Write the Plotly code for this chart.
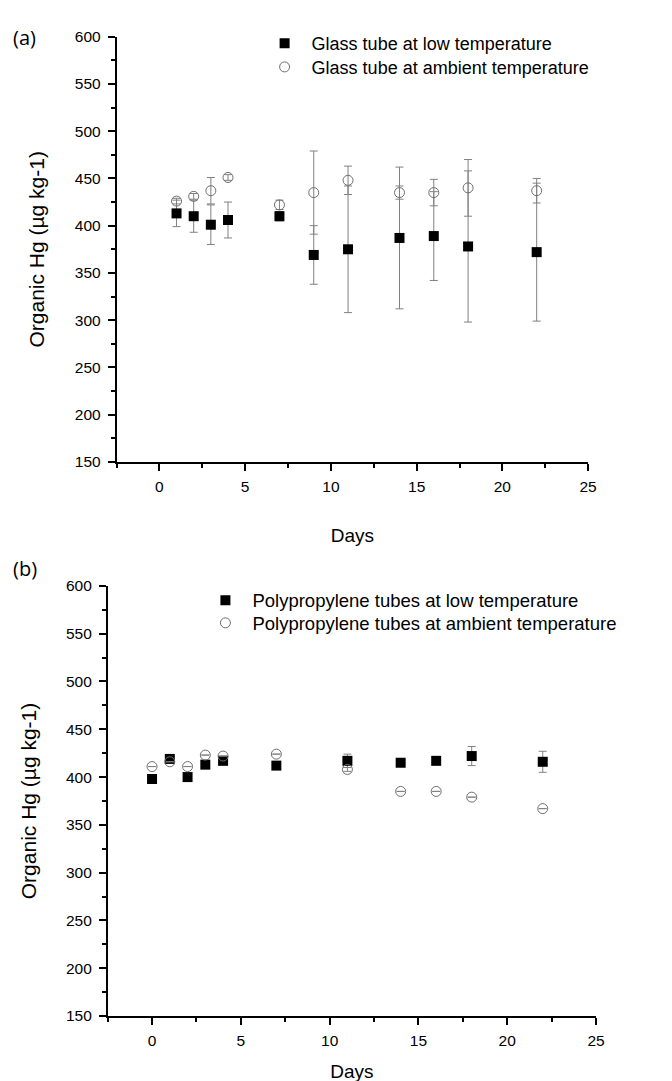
import plotly.graph_objects as go

W, H = 672, 1081

# ---- Panel (a): glass tubes ----
days_a = [1, 2, 3, 4, 7, 9, 11, 14, 16, 18, 22]
glass_low = [413, 410, 401, 406, 410, 369, 375, 387, 389, 378, 372]
glass_low_err = [14, 17, 21, 19, 5, 31, 67, 75, 47, 80, 73]
glass_amb = [426, 431, 437, 451, 422, 435, 448, 435, 435, 440, 437]
glass_amb_err = [3, 3, 14, 3, 5, 44, 15, 7, 14, 30, 13]

# ---- Panel (b): polypropylene tubes ----
days_b = [0, 1, 2, 3, 4, 7, 11, 14, 16, 18, 22]
pp_low = [398, 419, 400, 413, 417, 412, 417, 415, 417, 422, 416]
pp_low_err = [0, 2, 0, 0, 0, 0, 7, 0, 0, 10, 11]
pp_amb = [411, 416, 411, 423, 422, 424, 408, 385, 385, 379, 367]
pp_amb_err = [0, 0, 0, 0, 0, 0, 2, 0, 0, 0, 0]

y_ticks = [150, 200, 250, 300, 350, 400, 450, 500, 550, 600]
x_ticks = [0, 5, 10, 15, 20, 25]

FONT = "Liberation Sans, Arial, sans-serif"
ERR_COL = "#808080"

fig = go.Figure()

def add_series(x, y, err, name, filled, xa, ya, legend):
    if filled:
        marker = dict(symbol="square", size=10, color="black",
                      line=dict(color="black", width=0))
    else:
        marker = dict(symbol="circle-open", size=10, color="#6e6e6e",
                      line=dict(color="#6e6e6e", width=1))
    fig.add_trace(go.Scatter(
        x=x, y=y, mode="markers", name=name, marker=marker,
        error_y=dict(type="data", array=err, visible=True,
                     color=ERR_COL, thickness=1, width=4),
        xaxis=xa, yaxis=ya, legend=legend, cliponaxis=False))

add_series(days_a, glass_low, glass_low_err, "Glass tube at low temperature", True, "x", "y", "legend")
add_series(days_a, glass_amb, glass_amb_err, "Glass tube at ambient temperature", False, "x", "y", "legend2")
add_series(days_b, pp_low, pp_low_err, "Polypropylene tubes at low temperature", True, "x2", "y2", "legend3")
add_series(days_b, pp_amb, pp_amb_err, "Polypropylene tubes at ambient temperature", False, "x2", "y2", "legend4")

def px_x(p):
    return p / W

def px_y(p):
    return 1 - p / H

axis_common = dict(
    showline=True, linecolor="black", linewidth=1.5,
    ticks="outside", ticklen=7, tickwidth=1.5, tickcolor="black",
    showgrid=False, zeroline=False, mirror=False,
    tickfont=dict(family=FONT, size=15.5, color="black"),
)

def x_axis(standoff):
    return dict(axis_common, range=[-2.5, 25], tickvals=x_ticks, ticklabelstandoff=3,
                minor=dict(dtick=2.5, tick0=0, ticks="outside", ticklen=4, tickwidth=1.5, tickcolor="black"),
                title=dict(text="Days", font=dict(family=FONT, size=19, color="black"), standoff=standoff))

ya = dict(axis_common, range=[150, 600], tickvals=y_ticks, ticklabelstandoff=4,
          minor=dict(dtick=25, tick0=0, ticks="outside", ticklen=4, tickwidth=1.5, tickcolor="black"),
          title=dict(text="Organic Hg (µg kg-1)", font=dict(family=FONT, size=21, color="black"), standoff=24))

def leg(xp, yp, size):
    return dict(x=px_x(xp), y=px_y(yp), xanchor="left", yanchor="middle",
                bgcolor="rgba(0,0,0,0)", font=dict(family=FONT, size=size, color="black"),
                itemwidth=44, itemsizing="trace", tracegroupgap=0, borderwidth=0)

fig.update_layout(
    width=W, height=H,
    margin=dict(l=0, r=0, t=0, b=0),
    paper_bgcolor="white", plot_bgcolor="white",
    xaxis=dict(x_axis(34), domain=[px_x(110), px_x(588)], anchor="y"),
    yaxis=dict(ya, domain=[px_y(452), px_y(20)], anchor="x"),
    xaxis2=dict(x_axis(16), domain=[px_x(101), px_x(596)], anchor="y2"),
    yaxis2=dict(ya, domain=[px_y(1015), px_y(578)], anchor="x2"),
    legend=leg(253, 27, 18),
    legend2=leg(253, 51, 18),
    legend3=leg(193, 593, 18.5),
    legend4=leg(193, 616, 18.5),
    showlegend=True,
    annotations=[
        dict(text="(a)", x=px_x(3), y=px_y(21), xref="paper", yref="paper",
             xanchor="left", yanchor="middle", showarrow=False,
             font=dict(family="Open Sans, sans-serif", size=20, color="black")),
        dict(text="(b)", x=px_x(3), y=px_y(560), xref="paper", yref="paper",
             xanchor="left", yanchor="middle", showarrow=False,
             font=dict(family="Open Sans, sans-serif", size=20, color="black")),
    ],
)

fig.write_html("out.html")
